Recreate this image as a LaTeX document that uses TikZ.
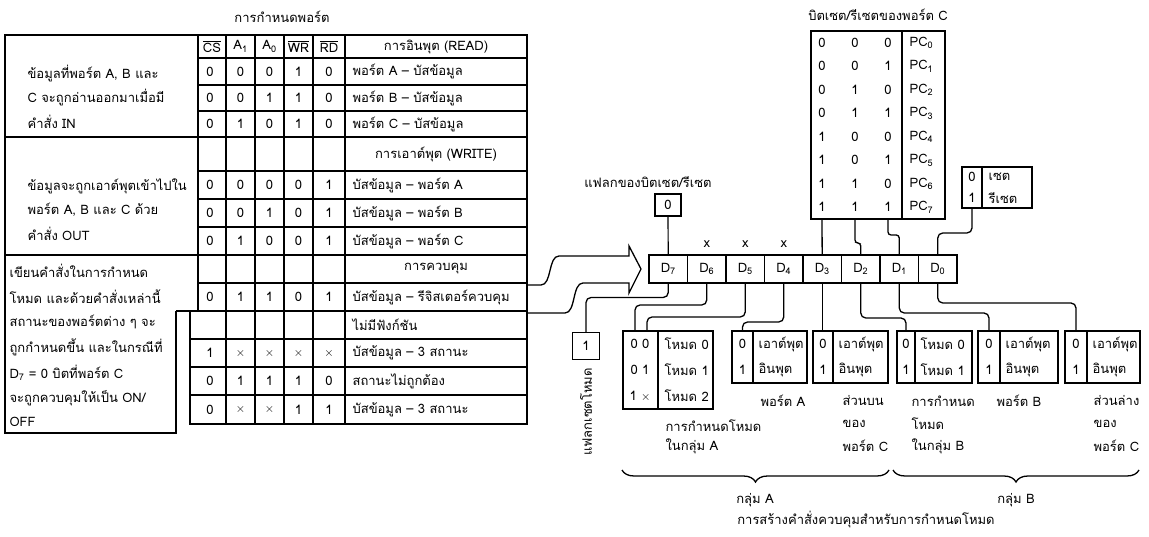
\documentclass[tikz,border=0pt]{standalone}
\usepackage{fontspec}
\setmainfont{Loma}[Script=Thai]
\usetikzlibrary{positioning, calc, decorations.pathreplacing}

\newcommand{\ovl}[1]{$\overline{\mbox{#1}}$}
\newcommand{\sbs}[1]{\textsubscript{#1}}

\begin{document}
\begin{tikzpicture}[
    x=1pt, y=-1pt, line width=1.2pt,
    txt/.style={inner sep=0pt, font=\fontsize{13}{15}\selectfont},
    tbl/.style={line width=1.6pt},
    dcell/.style={draw, line width=1.4pt, txt, minimum width=38.5pt, minimum height=28pt, outer sep=0pt},
    bitbox/.style={draw, line width=1.4pt, inner sep=0pt, outer sep=0pt},
    wire/.style={line width=1.3pt, rounded corners=5pt},
    grp/.style={line width=1.3pt, decorate, decoration={brace, mirror, amplitude=12pt}}
  ]
  \fill[white] (0,0) rectangle (1149,537);
  \useasboundingbox (0,0) rectangle (1149,537);

  % Port table
  \node[txt] (title) at (282,17) {การกำหนดพอร์ต};
  \draw[tbl] (176,311) -- (176,433) -- (5,433) -- (5,35) -- (527,35) -- (527,424) -- (190,424) -- (190,311);
  \draw[tbl] (176,311) -- (527,311);
  \foreach \yy in {137,255} \draw[tbl] (5,\yy) -- (527,\yy);
  \draw (198,35) -- (198,311);
  \foreach \xx in {226,255,284,313,345} \draw (\xx,35) -- (\xx,424);
  \foreach \yy in {58,85,111,171,199,227,283} \draw (198,\yy) -- (527,\yy);
  \foreach \yy in {339,367,395} \draw (190,\yy) -- (527,\yy);

  \foreach \hh/\cx [count=\k] in {{\ovl{CS}}/212, {A\sbs{1}}/240.5, {A\sbs{0}}/269.5, {\ovl{WR}}/298.5, {\ovl{RD}}/329}
    \node[txt] (hd\k) at (\cx,46.5) {\hh};
  \node[txt] (hread) at (436,46.5) {การอินพุต (READ)};
  \node[txt] (hwrite) at (436,154) {การเอาต์พุต (WRITE)};
  \node[txt] (hctrl) at (436,269) {การควบคุม};
  \node[txt, anchor=west] (hnone) at (352,325) {ไม่มีฟังก์ชัน};

  \foreach \yy/\va/\vb/\vc/\vd/\ve/\op [count=\k] in {
      71.5/0/0/0/1/0/{พอร์ต A -- บัสข้อมูล},
      98/0/0/1/1/0/{พอร์ต B -- บัสข้อมูล},
      124/0/1/0/1/0/{พอร์ต C -- บัสข้อมูล},
      185/0/0/0/0/1/{บัสข้อมูล -- พอร์ต A},
      213/0/0/1/0/1/{บัสข้อมูล -- พอร์ต B},
      241/0/1/0/0/1/{บัสข้อมูล -- พอร์ต C},
      297/0/1/1/0/1/{บัสข้อมูล -- รีจิสเตอร์ควบคุม},
      353/1/{$\times$}/{$\times$}/{$\times$}/{$\times$}/{บัสข้อมูล -- 3 สถานะ},
      381/0/1/1/1/0/{สถานะไม่ถูกต้อง},
      409.5/0/{$\times$}/{$\times$}/1/1/{บัสข้อมูล -- 3 สถานะ}} {
    \node[txt] (cs\k) at (210,\yy) {\va};
    \node[txt] (aa\k) at (240.5,\yy) {\vb};
    \node[txt] (ab\k) at (269.5,\yy) {\vc};
    \node[txt] (wr\k) at (298.5,\yy) {\vd};
    \node[txt] (rd\k) at (329,\yy) {\ve};
    \node[txt, anchor=west] (op\k) at (352,\yy) {\op};
  }

  % Left notes
  \foreach \yy/\xx/\ln [count=\k] in {
      74/27/{ข้อมูลที่พอร์ต A, B และ},
      98/27/{C จะถูกอ่านออกมาเมื่อมี},
      122/27/{คำสั่ง IN},
      186/27/{ข้อมูลจะถูกเอาต์พุตเข้าไปใน},
      210/27/{พอร์ต A, B และ C ด้วย},
      234/27/{คำสั่ง OUT},
      271/9/{เขียนคำสั่งในการกำหนด},
      296.5/9/{โหมด และด้วยคำสั่งเหล่านี้},
      322/9/{สถานะของพอร์ตต่าง ๆ จะ},
      347.5/9/{ถูกกำหนดขึ้น และในกรณีที่},
      373/9/{D\sbs{7} = 0 บิตที่พอร์ต C},
      398.5/9/{จะถูกควบคุมให้เป็น ON/},
      422/9/{OFF}}
    \node[txt, anchor=west] (note\k) at (\xx,\yy) {\ln};

  % Control word
  \foreach \i [count=\k from 0] in {7,...,0}
    \node[dcell] (d\i) at ({668.25+38.5*\k},269) {D\sbs{\i}};
  \foreach \i in {6,5,4}
    \node[txt, above=7pt of d\i] (x\i) {x};

  % Arrow into the control word
  \coordinate (tip) at ($(d7.west)+(-8,0)$);
  \draw[line width=1.3pt] (527,285) -- (541,285) .. controls (552,285) and (548,256) .. (559,256) -- (629,256) -- (629,246) -- (tip) -- (629,293) -- (629,283) -- (583,283) .. controls (572,283) and (576,313) .. (565,313) -- (527,313);

  % Bit set/reset flag
  \node[txt] (flaglbl) at (648,182) {แฟลกของบิตเซต/รีเซต};
  \node[bitbox, txt, minimum width=26pt, minimum height=22pt] (flag0) at (668,205) {0};
  \draw (flag0) -- (d7);

  % Port C bit select
  \node[txt] (bsrlbl) at (878,15) {บิตเซต/รีเซตของพอร์ต C};
  \node[bitbox, minimum width=134pt, minimum height=188pt] (bsr) at (878,125) {};
  \draw (902,31) -- (902,219);
  \foreach \va/\vb/\vc [count=\k from 0] in {0/0/0,0/0/1,0/1/0,0/1/1,1/0/0,1/0/1,1/1/0,1/1/1} {
    \node[txt] (ba\k) at (822,{42.75+23.5*\k}) {\va};
    \node[txt] (bb\k) at (855,{42.75+23.5*\k}) {\vb};
    \node[txt] (bc\k) at (888,{42.75+23.5*\k}) {\vc};
    \node[txt, anchor=west] (pc\k) at (909,{42.75+23.5*\k}) {PC\sbs{\k}};
  }
  \draw[wire] (bsr.south -| ba7) -- (d3);
  \draw[wire, rounded corners=3pt] (bsr.south -| bb7) |- ($(d2.north)+(0,-12)$) -- (d2.north);
  \draw[wire, rounded corners=3pt] (bsr.south -| bc7) |- ($(d1.north)+(0,-20)$) -- (d1.north);

  % Set / reset
  \node[bitbox, minimum width=70pt, minimum height=41pt] (sr) at (997,187.5) {};
  \draw (982,167) -- (982,208);
  \node[txt] (sr0) at (972,177) {0};
  \node[txt] (sr1) at (972,198) {1};
  \node[txt, anchor=west] (srset) at (988,177) {เซต};
  \node[txt, anchor=west] (srreset) at (988,198) {รีเซต};
  \draw[wire] (sr.south -| sr1) |- ($(d0.north)+(0,-22)$) -- (d0.north);

  % Mode set flag
  \node[bitbox, txt, minimum size=27pt] (flag1) at (586,346) {1};
  \node[txt, rotate=90, anchor=east] (flag1lbl) at ($(flag1.south)+(0,8)$) {แฟลกเซตโหมด};
  \draw[wire] (d7.south) |- ($(flag1.north)+(0,-35)$) -- (flag1.north);

  % Group A mode
  \node[bitbox, minimum width=90pt, minimum height=78pt] (modeA) at (668,370) {};
  \draw (658,331) -- (658,409);
  \foreach \vb/\vm [count=\k from 0] in {0 0/0, 0 1/1, 1 $\times$/2} {
    \node[txt] (ma\k) at (640,{344+26*\k}) {\vb};
    \node[txt, anchor=west] (mm\k) at (664,{344+26*\k}) {โหมด \vm};
  }
  \draw[wire] (d6.south) |- ($(modeA.north west)+(12,-26)$) -- ($(modeA.north west)+(12,0)$);
  \draw[wire] (d5.south) |- ($(modeA.north west)+(24,-14)$) -- ($(modeA.north west)+(24,0)$);

  % Port boxes
  \foreach \n/\l/\m/\r/\ta/\tb in {pa/732/753/807/เอาต์พุต/อินพุต, pcu/813/833/888/เอาต์พุต/อินพุต, mb/897/915/972/โหมด 0/โหมด 1, pb/978/1000/1058/เอาต์พุต/อินพุต, pcl/1065/1087/1140/เอาต์พุต/อินพุต} {
    \node[bitbox, minimum width={\r-\l}, minimum height=52pt] (\n) at ({(\l+\r)/2},357) {};
    \draw (\m,331) -- (\m,383);
    \node[txt] (\n0) at ({(\l+\m)/2},344) {0};
    \node[txt] (\n1) at ({(\l+\m)/2},370) {1};
    \node[txt, anchor=west] (\n-a) at ({\m+5},344) {\ta};
    \node[txt, anchor=west] (\n-b) at ({\m+5},370) {\tb};
  }
  \draw[wire] (d4.south) |- ($(pa.north -| pa0)+(0,-9)$) -- (pa.north -| pa0);
  \draw[wire] (d3.south) -- (d3.south |- pcu.north);
  \draw[wire] (d2.south) |- ($(mb.north -| mb0)+(0,-13)$) -- (mb.north -| mb0);
  \draw[wire] (d1.south) |- ($(pb.north -| pb0)+(0,-18)$) -- (pb.north -| pb0);
  \draw[wire] (d0.south) |- ($(pcl.north -| pcl0)+(0,-28)$) -- (pcl.north -| pcl0);

  % Labels
  \node[txt, anchor=west] (lbA1) at (665,426) {การกำหนดโหมด};
  \node[txt, anchor=west] (lbA2) at (665,446) {ในกลุ่ม A};
  \node[txt] (lbpa) at (783,401) {พอร์ต A};
  \node[txt, anchor=west] (lbcu1) at (842,401) {ส่วนบน};
  \node[txt, anchor=west] (lbcu2) at (842,424) {ของ};
  \node[txt, anchor=west] (lbcu3) at (842,446) {พอร์ต C};
  \node[txt, anchor=west] (lbB1) at (911,401) {การกำหนด};
  \node[txt, anchor=west] (lbB2) at (911,424) {โหมด};
  \node[txt, anchor=west] (lbB3) at (911,446) {ในกลุ่ม B};
  \node[txt] (lbpb) at (1019,401) {พอร์ต B};
  \node[txt, anchor=west] (lbcl1) at (1093,401) {ส่วนล่าง};
  \node[txt, anchor=west] (lbcl2) at (1093,424) {ของ};
  \node[txt, anchor=west] (lbcl3) at (1093,446) {พอร์ต C};

  % Groups
  \draw[grp] (622,470) -- (889,470);
  \draw[grp] (893,470) -- (1139,470);
  \node[txt] (grpA) at (755,500) {กลุ่ม A};
  \node[txt] (grpB) at (1016,500) {กลุ่ม B};
  \node[txt] (caption) at (866,520) {การสร้างคำสั่งควบคุมสำหรับการกำหนดโหมด};
\end{tikzpicture}
\end{document}
